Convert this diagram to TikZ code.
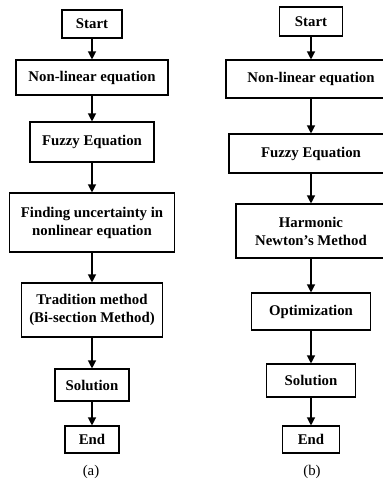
\documentclass[tikz,border=0pt]{standalone}
\usepackage{fontspec}
\setmainfont{Liberation Serif}
\usepackage{tikz}
\usetikzlibrary{arrows.meta}
\tikzset{
  font={\fontsize{14.8pt}{18pt}\selectfont}}
\begin{document}
\begin{tikzpicture}[x=1pt,y=1pt]
\tikzstyle{every node}+=[inner sep=0pt]
\tikzstyle{stepbox}=[draw=black, line width=1.1pt, align=center, font={\fontsize{14.8pt}{18pt}\selectfont\bfseries}]
\tikzstyle{flow}=[black, line width=1.2pt, -{Triangle[length=8pt,width=8pt]}]
\useasboundingbox (0,0) rectangle (383,-485);
\clip (0,0) rectangle (383,-485);
\node [stepbox, minimum width=60, minimum height=28] (startA) at (92,-24) {Start};
\node [stepbox, minimum width=152, minimum height=35] (nonlinA) at (92,-77.5) {Non-linear equation};
\node [stepbox, minimum width=124, minimum height=40] (fuzzyA) at (92,-142) {Fuzzy Equation};
\node [stepbox, minimum width=165, minimum height=59] (findA) at (92,-222.5) {Finding uncertainty in\\nonlinear equation};
\node [stepbox, minimum width=141, minimum height=54] (tradA) at (92,-310) {Tradition method\\(Bi-section Method)};
\node [stepbox, minimum width=74, minimum height=32] (solA) at (92,-385) {Solution};
\node [stepbox, minimum width=54, minimum height=27] (endA) at (92,-439.5) {End};
\node (capA) at (91,-472) {(a)};
\node [stepbox, minimum width=63, minimum height=29] (startB) at (311,-21.5) {Start};
\node [stepbox, minimum width=170, minimum height=38] (nonlinB) at (311,-79) {Non-linear equation};
\node [stepbox, minimum width=164, minimum height=39] (fuzzyB) at (311,-153.5) {Fuzzy Equation};
\node [stepbox, minimum width=150, minimum height=54] (harmB) at (311,-231) {Harmonic\\Newton's Method};
\node [stepbox, minimum width=119, minimum height=37] (optB) at (311,-311.5) {Optimization};
\node [stepbox, minimum width=89, minimum height=33] (solB) at (311,-380.5) {Solution};
\node [stepbox, minimum width=57, minimum height=27] (endB) at (311,-439.5) {End};
\node (capB) at (312,-472) {(b)};
\draw [flow] (startA) -- (nonlinA);
\draw [flow] (nonlinA) -- (fuzzyA);
\draw [flow] (fuzzyA) -- (findA);
\draw [flow] (findA) -- (tradA);
\draw [flow] (tradA) -- (solA);
\draw [flow] (solA) -- (endA);
\draw [flow] (startB) -- (nonlinB);
\draw [flow] (nonlinB) -- (fuzzyB);
\draw [flow] (fuzzyB) -- (harmB);
\draw [flow] (harmB) -- (optB);
\draw [flow] (optB) -- (solB);
\draw [flow] (solB) -- (endB);
\end{tikzpicture}
\end{document}
